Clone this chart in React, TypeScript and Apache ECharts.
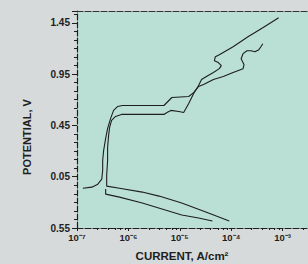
import React, { useEffect, useRef } from "react";
import * as echarts from "echarts";

const xExponents = [-7, -6, -5, -4, -3];
const xTickLabels = ["10⁻⁷", "10⁻⁶", "10⁻⁵", "10⁻⁴", "10⁻³"];
const yTickValues = [-0.55, -0.05, 0.45, 0.95, 1.45];
const yTickLabels = ["0.55", "0.05", "0.45", "0.95", "1.45"];

// [current A/cm², potential V]
const curveA: [number, number][] = [
  [1.3e-7, -0.162], [1.94e-7, -0.152], [2.54e-7, -0.123], [3.03e-7, -0.074],
  [3.16e-7, 0.013], [3.16e-7, 0.11], [3.3e-7, 0.207], [3.61e-7, 0.324],
  [3.94e-7, 0.421], [4.51e-7, 0.518], [5.15e-7, 0.596], [6.14e-7, 0.634],
  [7.67e-7, 0.644], [1.63e-6, 0.644], [4.92e-6, 0.644], [5.87e-6, 0.683],
  [7.01e-6, 0.722], [1.49e-5, 0.732], [1.86e-5, 0.77], [2.32e-5, 0.829],
  [2.9e-5, 0.848], [4.51e-5, 0.897], [7.01e-5, 0.926], [1.09e-4, 0.965],
  [1.7e-4, 1.003], [1.78e-4, 1.042], [1.56e-4, 1.1], [1.7e-4, 1.149],
  [2.03e-4, 1.178], [2.43e-4, 1.178], [2.9e-4, 1.168], [3.45e-4, 1.188],
  [3.78e-4, 1.217], [4.12e-4, 1.246],
];

const curveB: [number, number][] = [
  [9.16e-5, -0.482], [3.61e-5, -0.404], [1.09e-5, -0.307], [3.94e-6, -0.239],
  [1.86e-6, -0.2], [6.71e-7, -0.162], [3.78e-7, -0.142], [3.78e-7, -0.035],
  [3.94e-7, 0.11], [3.94e-7, 0.236], [4.12e-7, 0.353], [4.31e-7, 0.431],
  [4.71e-7, 0.499], [5.62e-7, 0.537], [7.33e-7, 0.557], [2.54e-6, 0.557],
  [4.92e-6, 0.557], [5.62e-6, 0.576], [6.71e-6, 0.596], [9.57e-6, 0.586],
  [1.19e-5, 0.576], [1.49e-5, 0.664], [1.86e-5, 0.761], [2.32e-5, 0.838],
  [2.65e-5, 0.897], [3.3e-5, 0.926], [4.51e-5, 0.965], [5.87e-5, 1.003],
  [6.43e-5, 1.033], [5.62e-5, 1.062], [4.71e-5, 1.081], [4.92e-5, 1.12],
  [5.87e-5, 1.139], [1.09e-4, 1.217], [2.12e-4, 1.314], [4.12e-4, 1.401],
  [8.37e-4, 1.499],
];

const curveC: [number, number][] = [
  [3.61e-7, -0.171], [3.61e-7, -0.22], [6.71e-7, -0.249], [1.86e-6, -0.307],
  [1.09e-5, -0.424], [2.32e-5, -0.453], [4.31e-5, -0.482],
];

const FONT = "'Liberation Sans', Arial, sans-serif";
const INK = "#1e1e1e";

export default function App() {
  const ref = useRef<HTMLDivElement>(null);
  useEffect(() => {
    if (!ref.current) return;
    document.body.style.overflow = "hidden";
    const chart = echarts.init(ref.current, undefined, { renderer: "svg" });
    const lineSeries = (data: [number, number][]) => ({
      type: "line" as const,
      data,
      showSymbol: false,
      symbol: "none",
      lineStyle: { color: INK, width: 1.1 },
      silent: true,
    });
    chart.setOption({
      animation: false,
      backgroundColor: "#d7dadb",
      grid: {
        left: 77,
        top: 11,
        right: 0,
        bottom: 36,
        show: true,
        backgroundColor: "#badfd5",
        borderWidth: 0,
      },
      xAxis: [
        {
          type: "log",
          logBase: 10,
          min: 1e-7,
          max: 1e-2,
          position: "bottom",
          axisLine: { show: true, onZero: false, lineStyle: { color: INK, width: 1.2, type: [6, 2] } },
          axisTick: { show: true, inside: false, length: 3, lineStyle: { color: INK } },
          minorTick: { show: true, splitNumber: 6, length: 2, lineStyle: { color: INK } },
          splitLine: { show: false },
          axisLabel: {
            margin: 4,
            color: INK,
            fontSize: 9.5,
            fontWeight: "bold",
            fontFamily: FONT,
            formatter: (v: number) => {
              const i = xExponents.indexOf(Math.round(Math.log10(v)));
              return i >= 0 ? xTickLabels[i] : "";
            },
          },
        },
        {
          type: "log",
          logBase: 10,
          min: 1e-7,
          max: 1e-2,
          position: "top",
          axisLine: { show: true, onZero: false, lineStyle: { color: "#333", width: 1.2, type: [6, 2] } },
          axisTick: { show: false },
          axisLabel: { show: false },
          splitLine: { show: false },
        },
      ],
      yAxis: {
        type: "value",
        min: -0.55,
        max: 1.565,
        interval: 0.5,
        axisLine: { show: true, onZero: false, lineStyle: { color: INK, width: 1.2, type: [6, 2] } },
        axisTick: { show: true, inside: false, length: 5, lineStyle: { color: INK } },
        minorTick: { show: true, splitNumber: 6, length: 3, lineStyle: { color: INK } },
        splitLine: { show: false },
        axisLabel: {
          margin: 7,
          color: INK,
          fontSize: 10,
          fontWeight: "bold",
          fontFamily: FONT,
          showMaxLabel: false,
          formatter: (v: number) => {
            const i = yTickValues.findIndex((t) => Math.abs(t - v) < 1e-6);
            return i >= 0 ? yTickLabels[i] : "";
          },
        },
      },
      graphic: [
        {
          type: "text",
          x: 27,
          y: 137,
          rotation: Math.PI / 2,
          style: {
            text: "POTENTIAL, V",
            fill: INK,
            font: `bold 11px ${FONT}`,
            align: "center",
            verticalAlign: "middle",
          },
        },
        {
          type: "text",
          x: 182,
          y: 256,
          style: {
            text: "CURRENT, A/cm²",
            fill: INK,
            font: `bold 11.5px ${FONT}`,
            align: "center",
            verticalAlign: "middle",
          },
        },
      ],
      series: [lineSeries(curveA), lineSeries(curveB), lineSeries(curveC)],
    });
    return () => chart.dispose();
  }, []);
  return (
    <div
      ref={ref}
      style={{ position: "fixed", left: 0, top: 0, width: 337, height: 264 }}
    />
  );
}
